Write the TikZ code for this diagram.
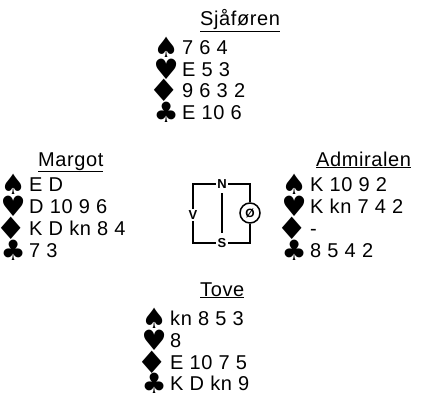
\documentclass[tikz,border=0pt]{standalone}
\usepackage{fontspec}
\setmainfont{Liberation Sans}[LetterSpace=3]
\newfontfamily\suitfont{DejaVu Sans}
\newcommand\symS{♠}
\newcommand\symH{♥}
\newcommand\symD{\raisebox{-1pt}{\scalebox{1.25}[1.1]{♦}}\kern-1.5pt}
\newcommand\symC{♣}

\begin{document}
\begin{tikzpicture}
[x=1pt,y=-1pt,
  nameDecorate/.style={anchor=base west,inner sep=0pt,font=\fontsize{20}{22}\selectfont},
  cardDecorate/.style={anchor=base west,inner sep=0pt,font=\fontsize{20}{22}\selectfont},
  suitDecorate/.style={anchor=base east,inner sep=0pt,xshift=-3pt,yshift=-3pt,font=\suitfont\fontsize{28}{30}\selectfont},
  compassDecorate/.style={inner sep=1.5pt,font=\bfseries\fontsize{13}{14}\selectfont},
  lineDecorate/.style={line width=1.5pt}]
\useasboundingbox (0,0) rectangle (427,406);
%% player names
\foreach \nodename/\x/\y/\player in {
  north/200/26/Sjåføren, west/38/166/Margot, east/316/166/Admiralen, south/200/296/Tove}
{
  \node (\nodename) at (\x,\y) [nameDecorate] {\underline{\player}};
}
%% holdings, one line per suit
\foreach \nodename/\x/\y/\suit/\cards in {
  nS/182/55/S/7 6 4, nH/182/77/H/E 5 3, nD/182/98/D/9 6 3 2, nC/182/120/C/E 10 6,
  wS/29/191/S/E D, wH/29/213/H/D 10 9 6, wD/29/235/D/K D kn 8 4, wC/29/257/C/7 3,
  eS/310/191/S/K 10 9 2, eH/310/213/H/K kn 7 4 2, eD/310/235/D/-, eC/310/257/C/8 5 4 2,
  sS/170/325/S/kn 8 5 3, sH/170/347/H/8, sD/170/369/D/E 10 7 5, sC/170/390/C/K D kn 9}
{
  \node (\nodename) at (\x,\y) [cardDecorate] {\cards};
  \node at (\nodename.base west) [suitDecorate] {\csname sym\suit\endcsname};
}
%% compass
\coordinate (nw) at (193,184);
\coordinate (ne) at (250,184);
\coordinate (sw) at (193,243);
\coordinate (se) at (250,243);
\coordinate (midtop) at (222,193);
\coordinate (midbot) at (222,233);
\node (N) at (222,184) [compassDecorate] {N};
\node (S) at (222,243) [compassDecorate] {S};
\node (V) at (193,215) [compassDecorate] {V};
\node (O) at (250,213) [circle,draw,line width=1.5pt,minimum size=20pt,inner sep=0pt,
  font=\bfseries\fontsize{12}{13}\selectfont] {Ø};
\draw[lineDecorate] (N) -- (nw) -- (V);
\draw[lineDecorate] (N) -- (ne) -- (O);
\draw[lineDecorate] (O) -- (se) -- (S);
\draw[lineDecorate] (S) -- (sw) -- (V);
\draw[lineDecorate] (midtop) -- (midbot);
\end{tikzpicture}
\end{document}
